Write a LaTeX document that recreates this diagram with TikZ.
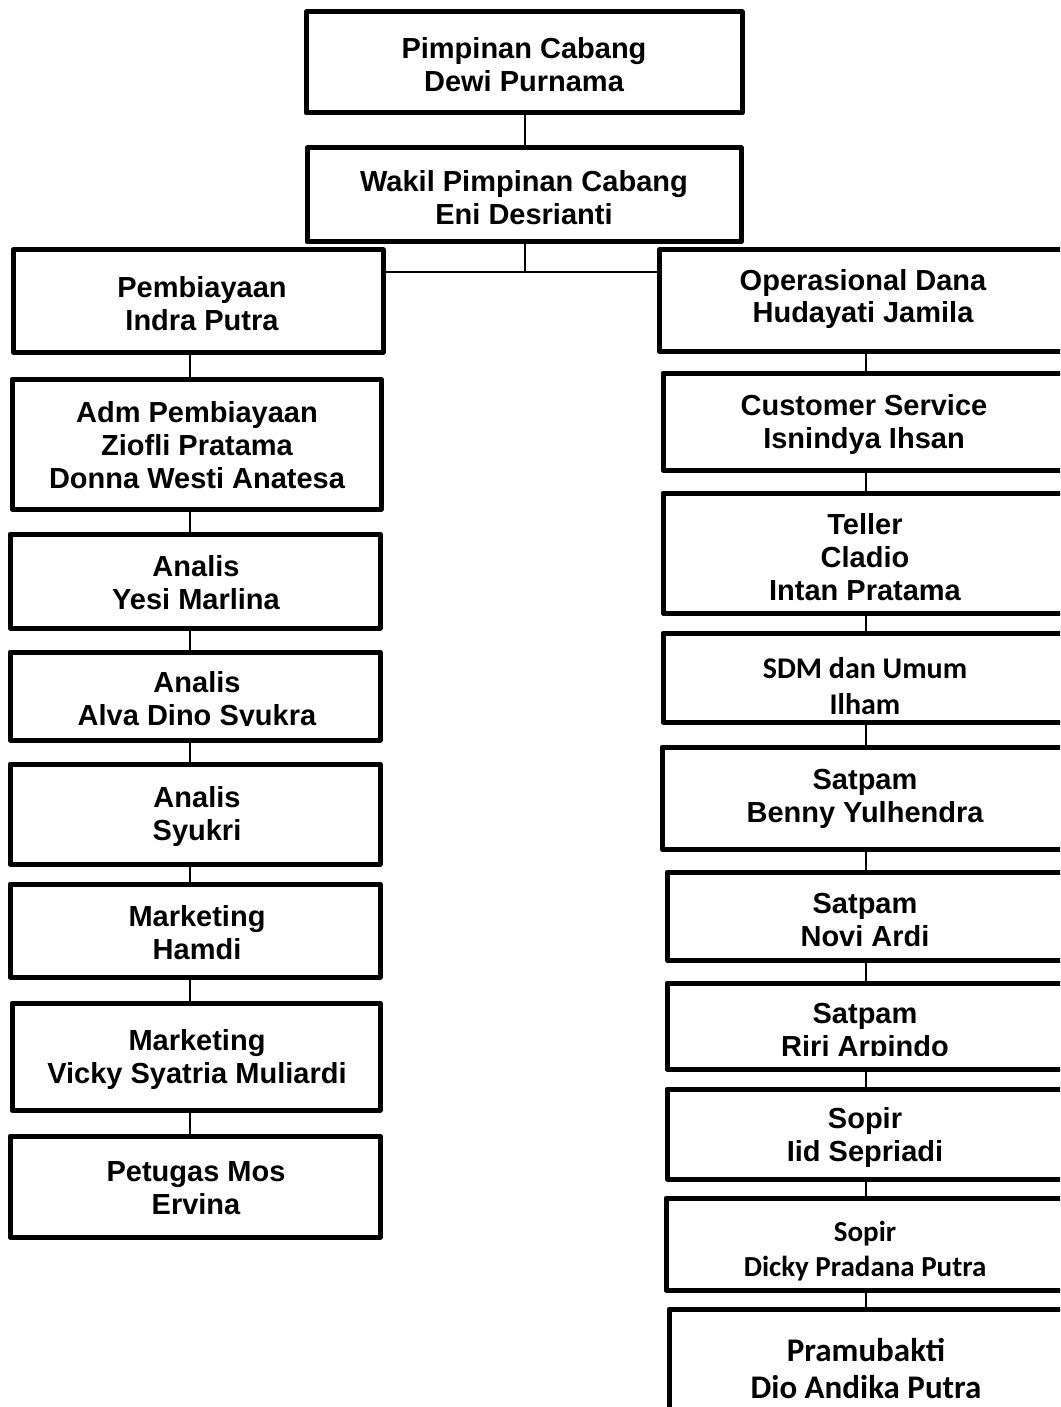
\documentclass[tikz,border=0pt]{standalone}
\usepackage{fontspec}
\setmainfont{Liberation Sans}
\newfontfamily\calib{Carlito}
\usetikzlibrary{fit}
\tikzset{
  box/.style={draw, line width=2.5pt, inner sep=0pt, line join=round},
  conn/.style={draw, line width=1pt},
  lbl/.style={align=center, inner sep=0pt, font=\bfseries\fontsize{14.5}{16.5}\selectfont},
  lblc/.style={align=center, inner sep=0pt, font=\calib\bfseries\fontsize{15}{18}\selectfont},
}
\newcommand\orgbox[5]{\node[box, fit={(#2,#3) (#4,#5)}] (#1) {};}
\begin{document}
\begin{tikzpicture}[x=0.5pt,y=-0.5pt]
\useasboundingbox (0,0) rectangle (1060,1407);
\clip (0,0) rectangle (1060,1407);
% top
\orgbox{pc}{306}{12}{742}{113}
\orgbox{wpc}{307}{148}{741}{242}
% left column
\orgbox{pb}{13}{250}{383}{352}
\orgbox{adm}{12}{379}{381}{509}
\orgbox{an1}{10}{534}{380}{628}
\orgbox{an2}{10}{652}{380}{740}
\orgbox{an3}{10}{764}{380}{864}
\orgbox{mk1}{10}{884}{380}{977}
\orgbox{mk2}{12}{1003}{380}{1110}
\orgbox{pm}{10}{1136}{380}{1237}
% right column
\orgbox{od}{659}{250}{1068}{351}
\orgbox{cs}{663}{373}{1068}{470}
\orgbox{tl}{663}{493}{1068}{613}
\orgbox{sdm}{663}{633}{1068}{722}
\orgbox{sp1}{662}{747}{1068}{849}
\orgbox{sp2}{667}{872}{1068}{960}
\orgbox{sp3}{667}{983}{1068}{1069}
\orgbox{so1}{667}{1089}{1068}{1179}
\orgbox{so2}{666}{1198}{1068}{1290}
\orgbox{pr}{669}{1309}{1068}{1440}
% texts
\node[lbl] (tpc) at (524,65) {Pimpinan Cabang\\Dewi Purnama};
\node[lbl] (twpc) at (524,198) {Wakil Pimpinan Cabang\\Eni Desrianti};
\node[lbl] (tpb) at (202,304) {Pembiayaan\\Indra Putra};
\node[lbl] (tadm) at (197,445) {Adm Pembiayaan\\Ziofli Pratama\\Donna Westi Anatesa};
\node[lbl] (tan1) at (196,583) {Analis\\Yesi Marlina};
\begin{scope}
\clip (0,652) rectangle (390,725);
\node[lbl] (tan2) at (197,701) {Analis\\Alva Dino Syukra};
\end{scope}
\node[lbl] (tan3) at (197,816) {Analis\\Syukri};
\node[lbl] (tmk1) at (197,933) {Marketing\\Hamdi};
\node[lbl] (tmk2) at (197,1059) {Marketing\\Vicky Syatria Muliardi};
\node[lbl] (tpm) at (196,1188) {Petugas Mos\\Ervina};
\node[lbl] (tod) at (863,299) {Operasional Dana\\Hudayati Jamila};
\node[lbl] (tcs) at (864,424) {Customer Service\\Isnindya Ihsan};
\node[lbl] (ttl) at (865,557) {Teller\\Cladio\\Intan Pratama};
\node[lblc] (tsdm) at (865,686) {SDM dan Umum\\Ilham};
\node[lbl] (tsp1) at (865,799) {Satpam\\Benny Yulhendra};
\node[lbl] (tsp2) at (865,920) {Satpam\\Novi Ardi};
\begin{scope}
\clip (660,983) rectangle (1070,1055);
\node[lbl] (tsp3) at (865,1033) {Satpam\\Riri Arpindo};
\end{scope}
\node[lbl] (tso1) at (865,1137) {Sopir\\Iid Sepriadi};
\node[lblc, font=\calib\bfseries\fontsize{14.5}{17.5}\selectfont] (tso2) at (865,1251) {Sopir\\Dicky Pradana Putra};
\node[lblc, font=\calib\bfseries\fontsize{16.5}{18.5}\selectfont] (tpr) at (866,1369) {Pramubakti\\Dio Andika Putra};
% connector coordinates
\coordinate (cx) at (525,0);
\coordinate (j) at (525,272);
\coordinate (lx) at (190,0);
\coordinate (rx) at (866,0);
% connectors
\draw[conn] (pc.south -| cx) -- (wpc.north -| cx);
\draw[conn] (wpc.south -| cx) -- (j);
\draw[conn] (pb.east |- j) -- (od.west |- j);
\draw[conn] (pb.south -| lx) -- (adm.north -| lx);
\draw[conn] (adm.south -| lx) -- (an1.north -| lx);
\draw[conn] (an1.south -| lx) -- (an2.north -| lx);
\draw[conn] (an2.south -| lx) -- (an3.north -| lx);
\draw[conn] (an3.south -| lx) -- (mk1.north -| lx);
\draw[conn] (mk1.south -| lx) -- (mk2.north -| lx);
\draw[conn] (mk2.south -| lx) -- (pm.north -| lx);
\draw[conn] (od.south -| rx) -- (cs.north -| rx);
\draw[conn] (cs.south -| rx) -- (tl.north -| rx);
\draw[conn] (tl.south -| rx) -- (sdm.north -| rx);
\draw[conn] (sdm.south -| rx) -- (sp1.north -| rx);
\draw[conn] (sp1.south -| rx) -- (sp2.north -| rx);
\draw[conn] (sp2.south -| rx) -- (sp3.north -| rx);
\draw[conn] (sp3.south -| rx) -- (so1.north -| rx);
\draw[conn] (so1.south -| rx) -- (so2.north -| rx);
\draw[conn] (so2.south -| rx) -- (pr.north -| rx);
\end{tikzpicture}
\end{document}
